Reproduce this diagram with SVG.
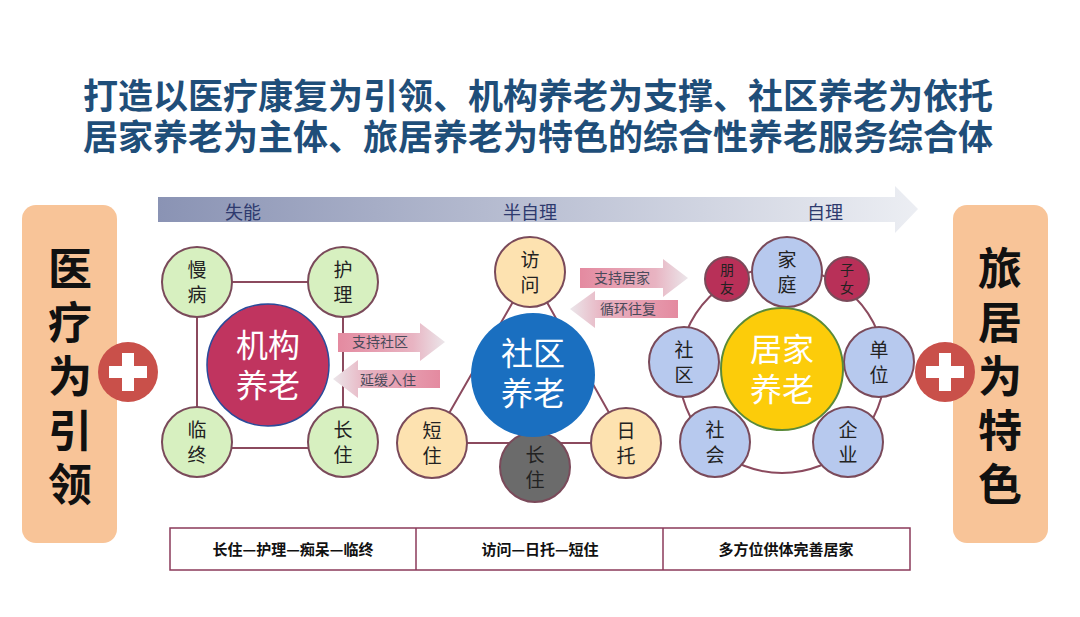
<svg xmlns="http://www.w3.org/2000/svg" width="1080" height="617" viewBox="0 0 1080 617">
<style>
text{font-family:"Noto Sans CJK SC","Liberation Sans",sans-serif;text-anchor:middle}
.t{font-size:35px;font-weight:bold;fill:#1f4e79}
.s{fill:#d7f0c0;stroke:#7a4a5a;stroke-width:2}
.o{fill:#fde2b0;stroke:#7a4a5a;stroke-width:2}
.b{fill:#b7c9ee;stroke:#7a4a5a;stroke-width:2}
.n{font-size:19px;fill:#222}
.big{font-size:32px;fill:#fff}
.side{font-size:44px;font-weight:bold;fill:#111}
.lbl{font-size:14px;fill:#4a4a5a}
.ln{stroke:#8b4a5e;stroke-width:2;fill:none}
.tb{font-size:15px;font-weight:bold;fill:#111}
</style>
<defs>
<linearGradient id="ga" x1="0" x2="1"><stop offset="0" stop-color="#8a93b4"/><stop offset="1" stop-color="#eceef3"/></linearGradient>
<linearGradient id="pr" x1="0" x2="1"><stop offset="0" stop-color="#e48aa0"/><stop offset="0.7" stop-color="#e8b4c2"/><stop offset="1" stop-color="#ebe6ea"/></linearGradient>
<linearGradient id="pl" x1="1" x2="0"><stop offset="0" stop-color="#e48aa0"/><stop offset="0.7" stop-color="#e8b4c2"/><stop offset="1" stop-color="#ebe6ea"/></linearGradient>
<g id="plus"><circle r="30" fill="#c9504a"/><path d="M-6,-19h12v13h13v12h-13v13h-12v-13h-13v-12h13z" fill="#fff"/></g>
</defs>
<text class="t" x="538" y="109">打造以医疗康复为引领、机构养老为支撑、社区养老为依托</text>
<text class="t" x="538" y="150">居家养老为主体、旅居养老为特色的综合性养老服务综合体</text>
<g id="progress">
<path d="M158,197H895V186L918,209L895,233V222H158Z" fill="url(#ga)"/>
<text x="243" y="219" font-size="18" fill="#2e3a6e">失能</text>
<text x="530" y="219" font-size="18" fill="#2e3a6e">半自理</text>
<text x="825" y="219" font-size="18" fill="#2e3a6e">自理</text>
</g>
<g id="left-box"><rect x="22" y="205" width="95" height="338" rx="14" fill="#f8c498"/>
<text class="side" x="70" y="285">医</text><text class="side" x="70" y="339">疗</text><text class="side" x="70" y="393">为</text><text class="side" x="70" y="447">引</text><text class="side" x="70" y="501">领</text></g>
<g id="right-box"><rect x="953" y="205" width="95" height="338" rx="14" fill="#f8c498"/>
<text class="side" x="1000" y="285">旅</text><text class="side" x="1000" y="339">居</text><text class="side" x="1000" y="393">为</text><text class="side" x="1000" y="447">特</text><text class="side" x="1000" y="501">色</text></g>
<use href="#plus" x="128" y="372"/>
<use href="#plus" x="945" y="372"/>
<g id="connectors">
<rect class="ln" x="197" y="282" width="146" height="166"/>
<path class="ln" d="M530,272L432,443H626Z"/>
<circle class="ln" cx="782" cy="370" r="103"/>
</g>
<g id="flow-arrows">
<path d="M338,333H420V323L445,342L420,361V352H338Z" fill="url(#pr)"/>
<text class="lbl" x="380" y="347">支持社区</text>
<path d="M440,370H358V360L333,379L358,398V388H440Z" fill="url(#pl)"/>
<text class="lbl" x="388" y="385">延缓入住</text>
<path d="M580,268H663V259L688,278L663,297V288H580Z" fill="url(#pr)"/>
<text class="lbl" x="622" y="283">支持居家</text>
<path d="M678,300H595V291L570,309L595,328V318H678Z" fill="url(#pl)"/>
<text class="lbl" x="628" y="314">循环往复</text>
</g>
<g id="jigou">
<g id="n-manbing"><circle class="s" cx="197" cy="282" r="35"/><text class="n" x="197" y="277">慢</text><text class="n" x="197" y="302">病</text></g>
<g id="n-huli"><circle class="s" cx="343" cy="282" r="35"/><text class="n" x="343" y="277">护</text><text class="n" x="343" y="302">理</text></g>
<g id="n-linzhong"><circle class="s" cx="197" cy="442" r="35"/><text class="n" x="197" y="437">临</text><text class="n" x="197" y="462">终</text></g>
<g id="n-changzhu1"><circle class="s" cx="343" cy="442" r="35"/><text class="n" x="343" y="437">长</text><text class="n" x="343" y="462">住</text></g>
<g id="n-jigou"><circle cx="268" cy="365" r="61" fill="#c0345f" stroke="#2a4a9a" stroke-width="1.5"/><text class="big" x="268" y="357">机构</text><text class="big" x="268" y="397">养老</text></g>
</g>
<g id="shequ">
<g id="n-fangwen"><circle class="o" cx="530" cy="272" r="35"/><text class="n" x="530" y="267">访</text><text class="n" x="530" y="292">问</text></g>
<g id="n-duanzhu"><circle class="o" cx="432" cy="443" r="35"/><text class="n" x="432" y="438">短</text><text class="n" x="432" y="463">住</text></g>
<g id="n-ritou"><circle class="o" cx="626" cy="443" r="35"/><text class="n" x="626" y="438">日</text><text class="n" x="626" y="463">托</text></g>
<g id="n-changzhu2"><circle cx="535" cy="467" r="35" fill="#6b6b6b" stroke="#7a4a5a" stroke-width="2"/><text class="n" x="535" y="462">长</text><text class="n" x="535" y="487">住</text></g>
<g id="n-shequ"><circle cx="533" cy="375" r="62" fill="#1a6fc0"/><text class="big" x="533" y="365">社区</text><text class="big" x="533" y="405">养老</text></g>
</g>
<g id="jujia">
<g id="n-pengyou"><circle cx="727" cy="279" r="22" fill="#b83058" stroke="#7a4a5a" stroke-width="2"/><text x="727" y="275" font-size="14" fill="#222">朋</text><text x="727" y="293" font-size="14" fill="#222">友</text></g>
<g id="n-zinv"><circle cx="847" cy="279" r="22" fill="#b83058" stroke="#7a4a5a" stroke-width="2"/><text x="847" y="275" font-size="14" fill="#222">子</text><text x="847" y="293" font-size="14" fill="#222">女</text></g>
<g id="n-jiating"><circle class="b" cx="787" cy="272" r="35"/><text class="n" x="787" y="267">家</text><text class="n" x="787" y="292">庭</text></g>
<g id="n-shequ2"><circle class="b" cx="684" cy="362" r="35"/><text class="n" x="684" y="357">社</text><text class="n" x="684" y="382">区</text></g>
<g id="n-danwei"><circle class="b" cx="879" cy="362" r="35"/><text class="n" x="879" y="357">单</text><text class="n" x="879" y="382">位</text></g>
<g id="n-shehui"><circle class="b" cx="715" cy="442" r="35"/><text class="n" x="715" y="437">社</text><text class="n" x="715" y="462">会</text></g>
<g id="n-qiye"><circle class="b" cx="848" cy="442" r="35"/><text class="n" x="848" y="437">企</text><text class="n" x="848" y="462">业</text></g>
<g id="n-jujia"><circle cx="782" cy="369" r="61" fill="#fccc0a" stroke="#5a8a3a" stroke-width="2"/><text class="big" x="782" y="361">居家</text><text class="big" x="782" y="401">养老</text></g>
</g>
<g id="table">
<rect x="170" y="528" width="740" height="42" fill="#fff" stroke="#8b3a5a" stroke-width="1.5"/>
<line x1="416" y1="528" x2="416" y2="570" stroke="#8b3a5a" stroke-width="1.5"/>
<line x1="663" y1="528" x2="663" y2="570" stroke="#8b3a5a" stroke-width="1.5"/>
<text class="tb" x="293" y="555">长住—护理—痴呆—临终</text>
<text class="tb" x="540" y="555">访问—日托—短住</text>
<text class="tb" x="786" y="555">多方位供体完善居家</text>
</g>
</svg>
